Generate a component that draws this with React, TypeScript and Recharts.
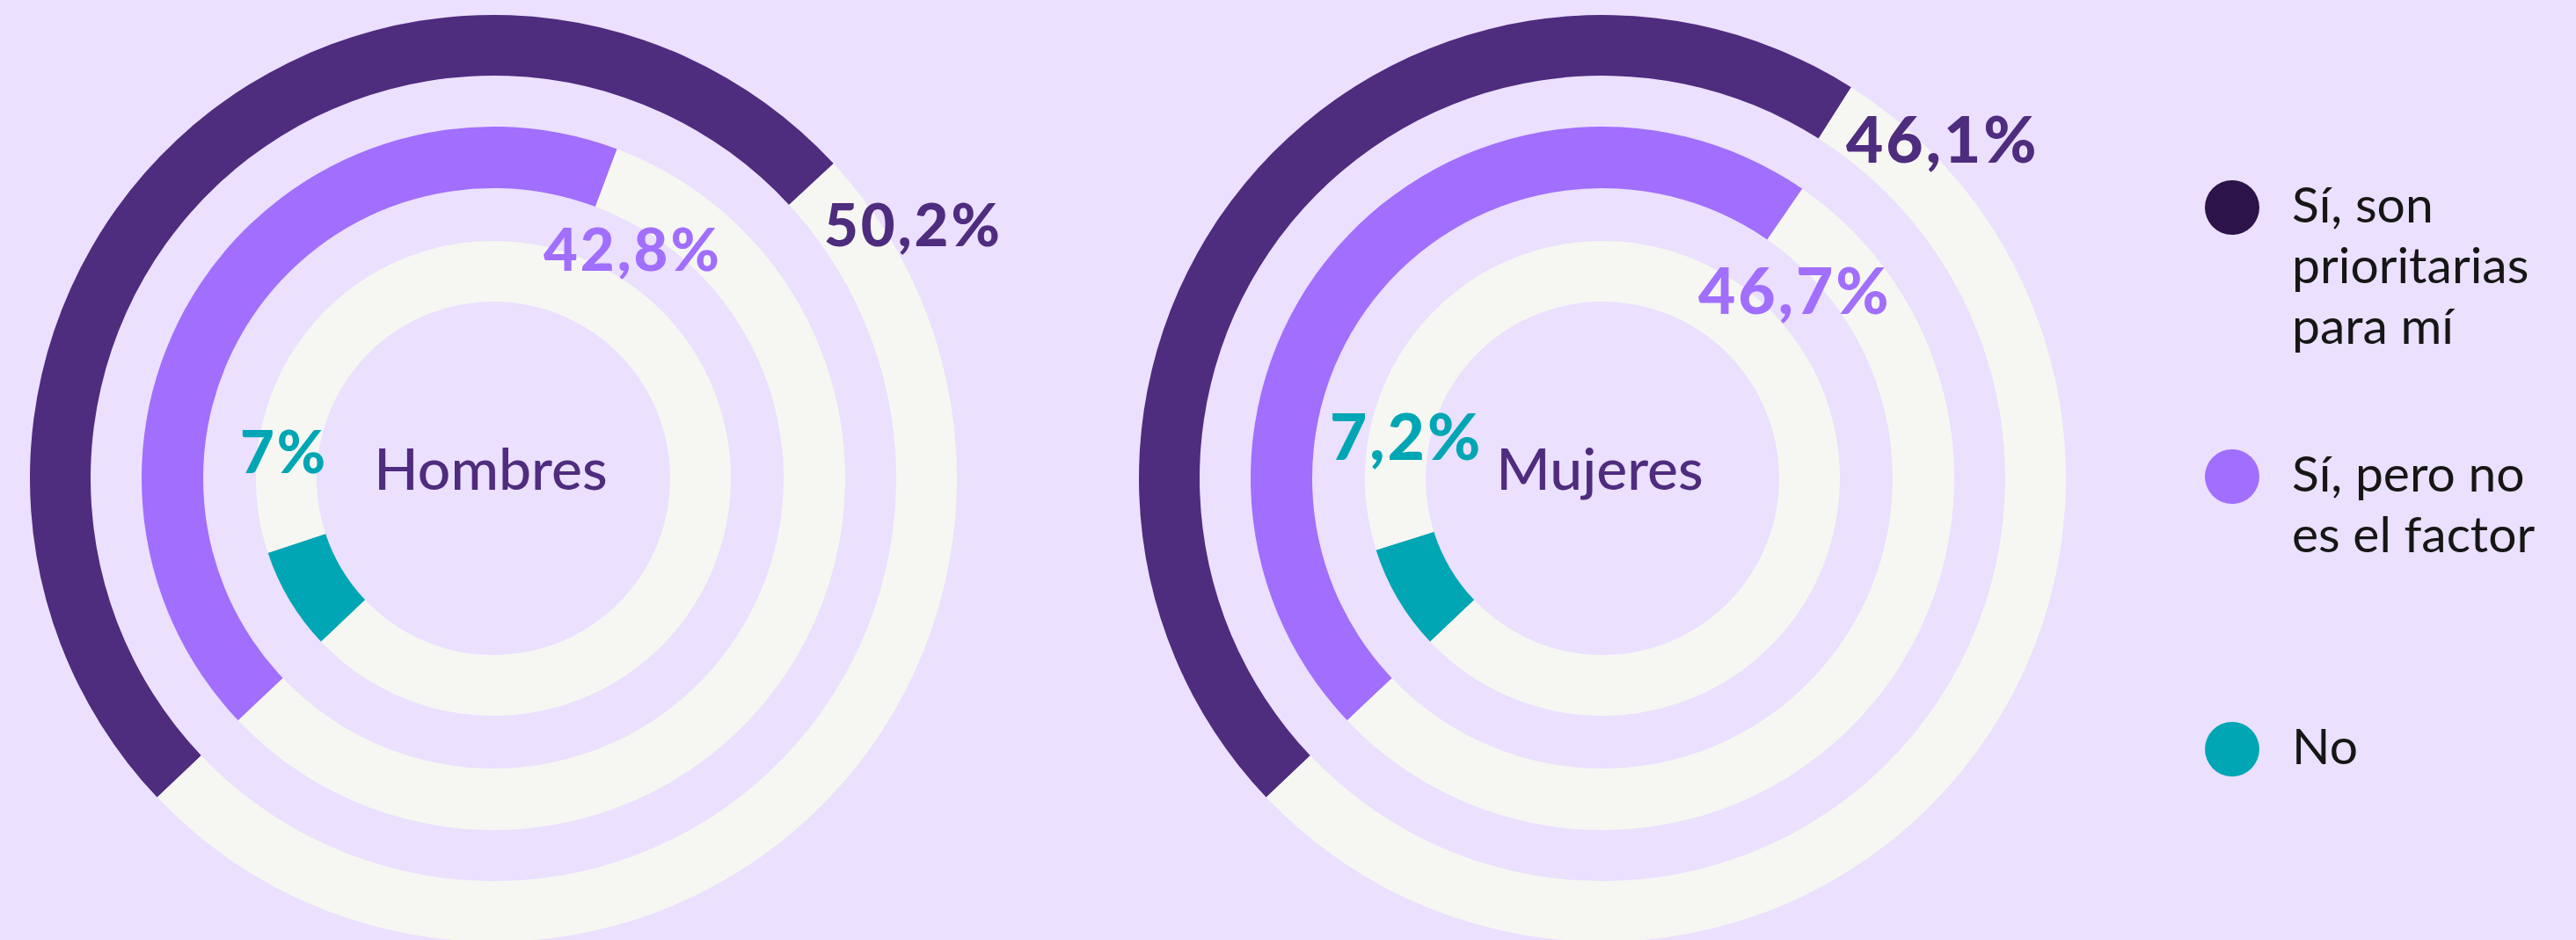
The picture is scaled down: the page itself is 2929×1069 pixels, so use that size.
import { PieChart, Pie, Cell } from 'recharts';

const GROUPS = ['Hombres', 'Mujeres'];
const ANSWERS = ['Sí, son prioritarias para mí', 'Sí, pero no es el factor', 'No'];
const HOMBRES = [50.2, 42.8, 7];
const MUJERES = [46.1, 46.7, 7.2];
const LEGEND_LINES = [['Sí, son', 'prioritarias', 'para mí'], ['Sí, pero no', 'es el factor'], ['No']];

const W = 2929;
const H = 1069;
const BG = '#EBE0FE';
const TRACK = '#F6F7F2';
const COLORS = ['#4E2C7E', '#A16EFD', '#00A6B4'];
const LEGEND_COLORS = ['#2C1349', '#A16EFD', '#00A6B4'];

// rings from outside to inside
const RINGS = [
  { inner: 458, outer: 527 },
  { inner: 330, outer: 400 },
  { inner: 201, outer: 270 },
];
const START = 223.5;

const CENTERS = [
  { cx: 561, cy: 544 },
  { cx: 1822, cy: 544 },
];

// where each percentage label sits (left x, baseline y)
const LABEL_POS = [
  [
    { x: 937, y: 280, size: 67 },
    { x: 618, y: 308, size: 67 },
    { x: 273, y: 538, size: 67 },
  ],
  [
    { x: 2099, y: 185, size: 73 },
    { x: 1931, y: 357, size: 73 },
    { x: 1512, y: 523, size: 73 },
  ],
];

const fmt = (v: number) => `${String(v).replace('.', ',')}%`;

export default function App() {
  const series = [HOMBRES, MUJERES];

  return (
    <div style={{ position: 'absolute', left: 0, top: 0, width: W, height: H, background: BG, overflow: 'hidden' }}>
      <PieChart width={W} height={H} margin={{ top: 0, right: 0, bottom: 0, left: 0 }}>
        {series.map((values, g) =>
          values.map((v, i) => (
            <Pie
              key={`${GROUPS[g]}-${i}`}
              data={[
                { name: ANSWERS[i], value: v },
                { name: 'resto', value: 100 - v },
              ]}
              dataKey="value"
              cx={CENTERS[g].cx}
              cy={CENTERS[g].cy}
              innerRadius={RINGS[i].inner}
              outerRadius={RINGS[i].outer}
              startAngle={START}
              endAngle={START - 360}
              paddingAngle={0}
              stroke="none"
              isAnimationActive={false}
            >
              <Cell fill={COLORS[i]} />
              <Cell fill={TRACK} />
            </Pie>
          ))
        )}
      </PieChart>

      {/* labels and legend drawn on top of the rings */}
      <svg width={W} height={H} style={{ position: 'absolute', left: 0, top: 0, pointerEvents: 'none' }}>
        {series.map((values, g) =>
          values.map((v, i) => (
            <text
              key={`lbl-${g}-${i}`}
              x={LABEL_POS[g][i].x}
              y={LABEL_POS[g][i].y}
              fill={COLORS[i]}
              fontFamily="Lato, sans-serif"
              fontWeight={900}
              fontSize={LABEL_POS[g][i].size}
              letterSpacing={3}
            >
              {fmt(v)}
            </text>
          ))
        )}

        {GROUPS.map((name, g) => (
          <text
            key={name}
            x={CENTERS[g].cx - 3}
            y={CENTERS[g].cy + 13}
            textAnchor="middle"
            fill={COLORS[0]}
            fontFamily="Lato, sans-serif"
            fontWeight={500}
            fontSize={66}
          >
            {name}
          </text>
        ))}

        {LEGEND_LINES.map((lines, i) => {
          const cy = [236, 542, 852][i];
          return (
            <g key={`leg-${i}`}>
              <circle cx={2538} cy={cy} r={31} fill={LEGEND_COLORS[i]} />
              <text fill="#161616" fontFamily="Lato, sans-serif" fontSize={57}>
                {lines.map((line, k) => (
                  <tspan key={k} x={2606} y={cy + 17 + k * 69}>
                    {line}
                  </tspan>
                ))}
              </text>
            </g>
          );
        })}
      </svg>
    </div>
  );
}
